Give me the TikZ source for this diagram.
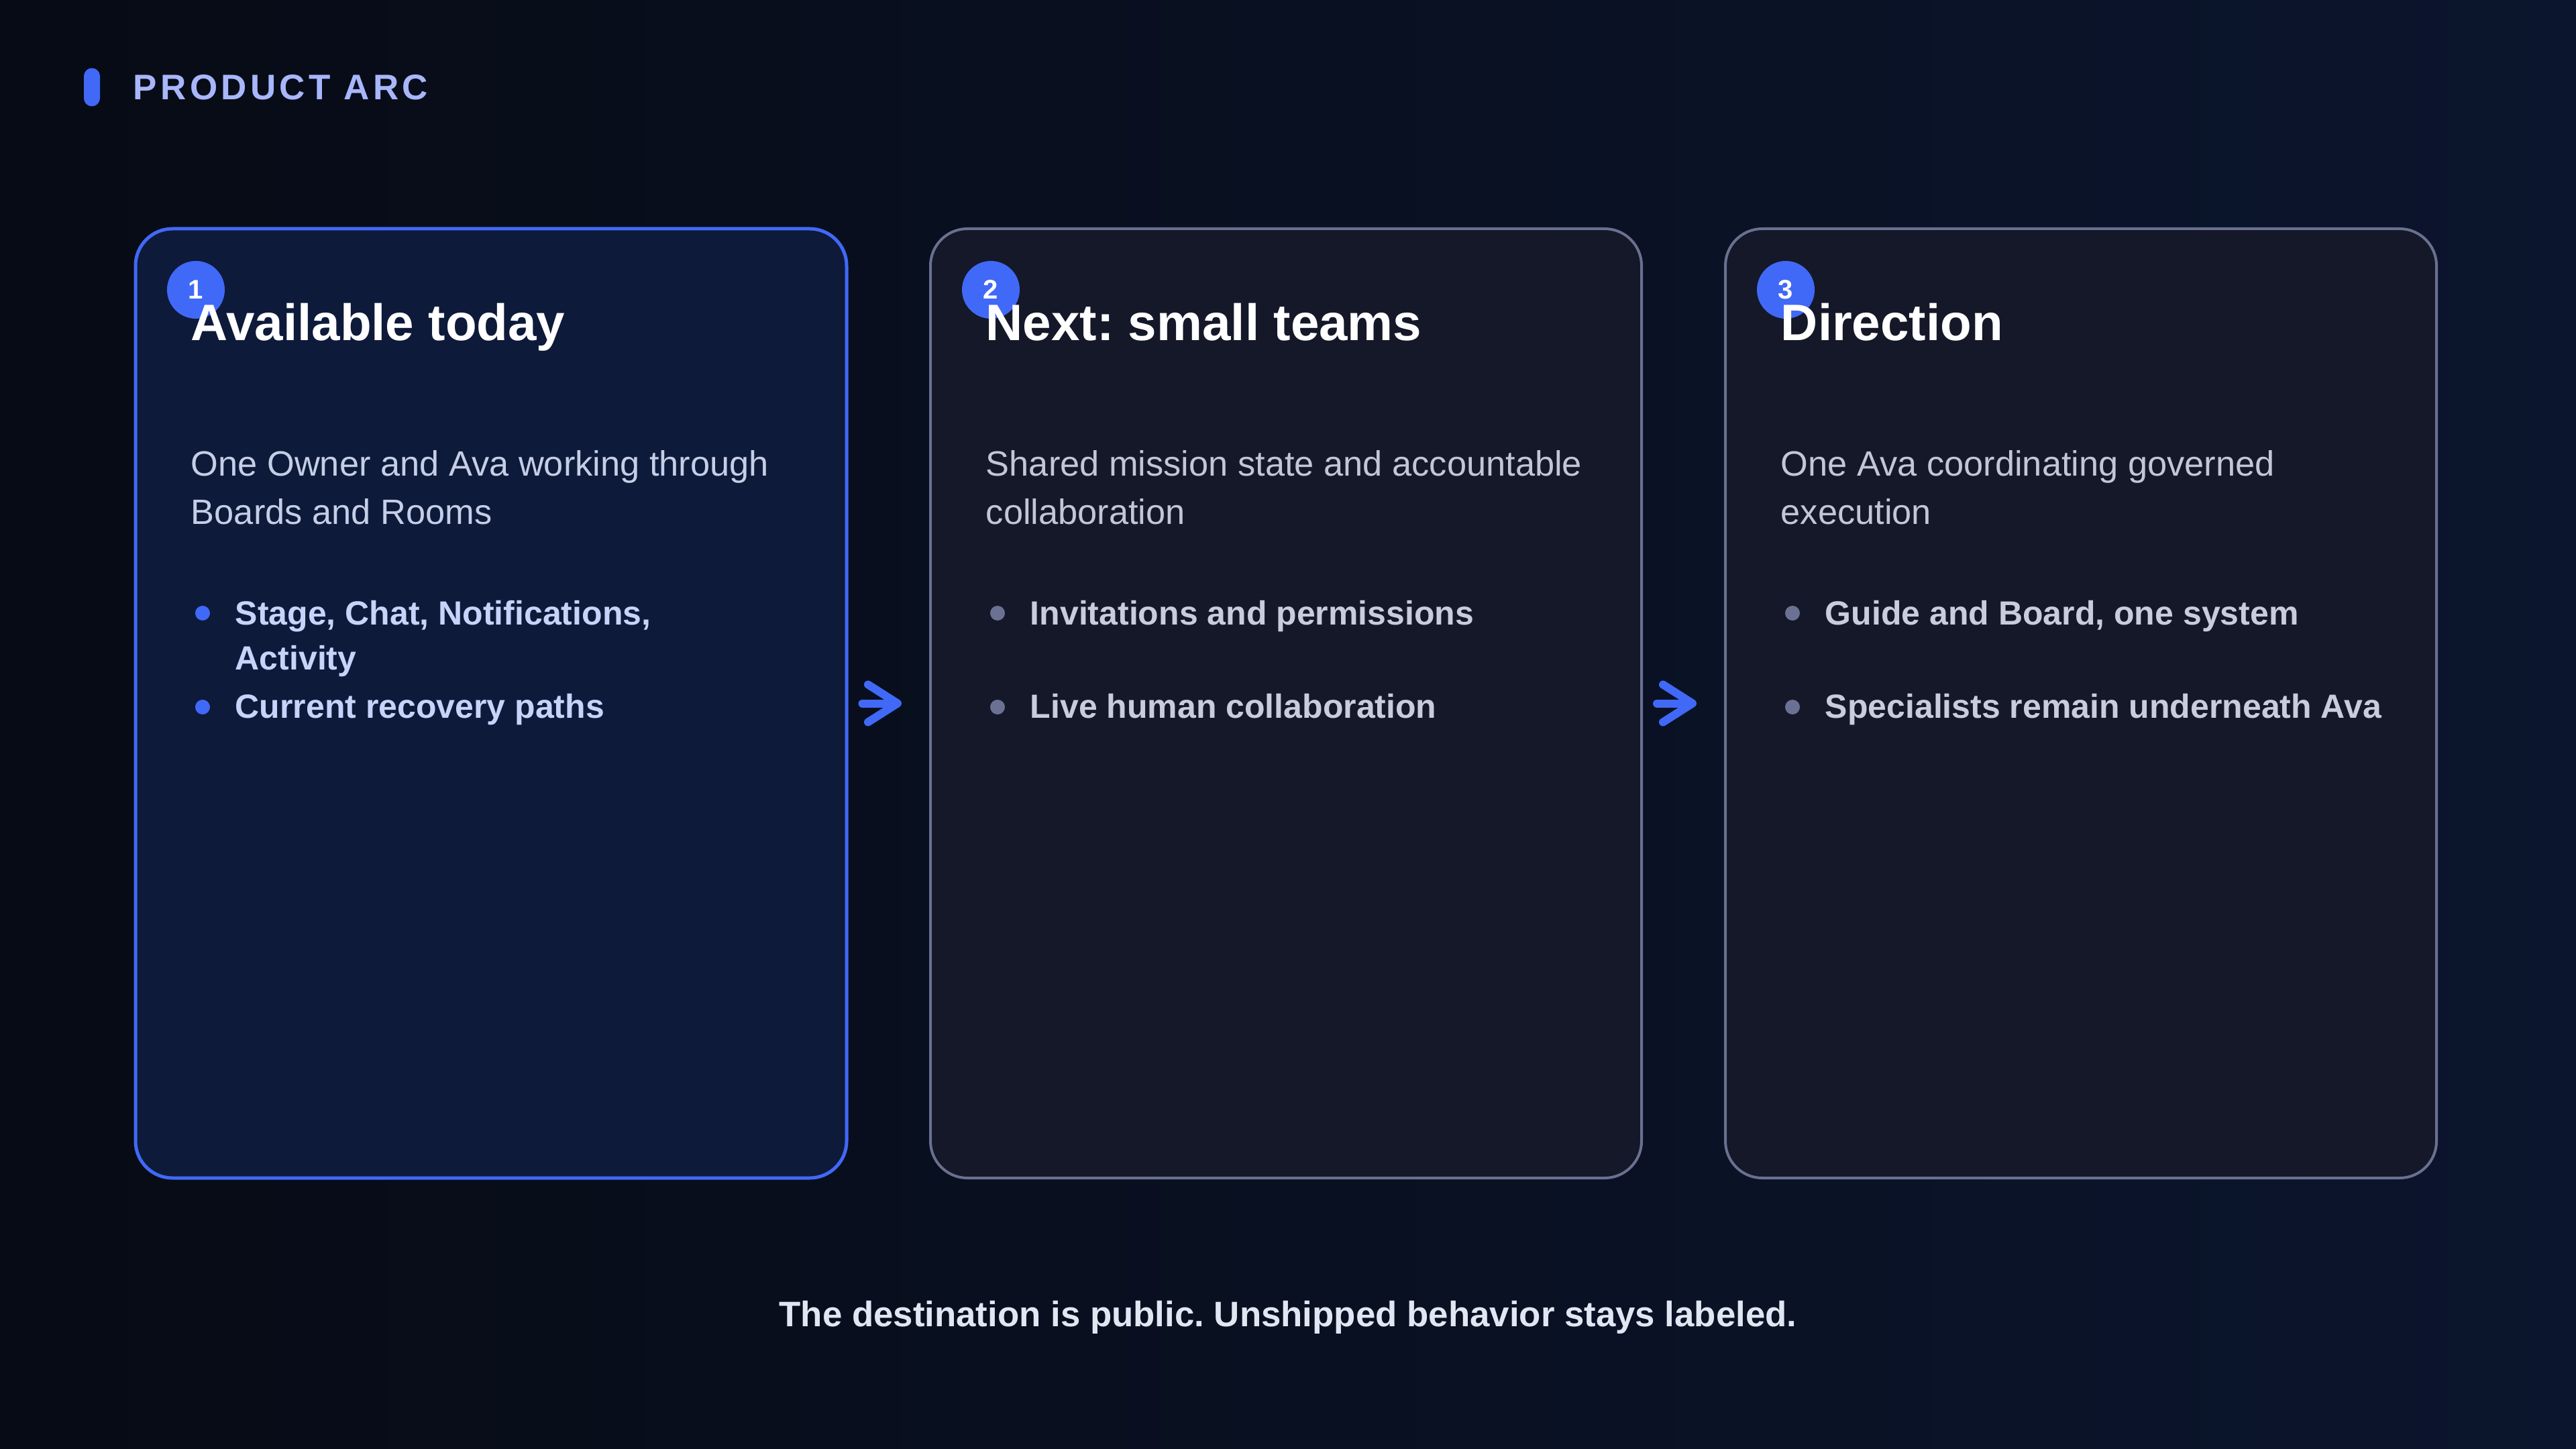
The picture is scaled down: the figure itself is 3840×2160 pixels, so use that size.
\documentclass[tikz,border=0pt]{standalone}
\usepackage{fontspec}
\setmainfont{Liberation Sans}
\usetikzlibrary{arrows.meta}
\frenchspacing
\definecolor{bgA}{HTML}{070B15}
\definecolor{bgB}{HTML}{0B152D}
\definecolor{accent}{HTML}{4169F7}
\definecolor{cardA}{HTML}{0E1A3A}
\definecolor{cardB}{HTML}{151828}
\definecolor{edgeB}{HTML}{6A7090}
\definecolor{kicker}{HTML}{A8B6FA}
\definecolor{descA}{HTML}{C5CEE6}
\definecolor{descB}{HTML}{C2C6D6}
\definecolor{bulA}{HTML}{C8D3FC}
\definecolor{bulB}{HTML}{C9CCDC}
\definecolor{dotB}{HTML}{6B7192}
\definecolor{foot}{HTML}{E1E7F2}
\tikzset{
  cardbox/.style={rectangle, rounded corners=13.75pt, minimum width=265pt, minimum height=353.75pt, inner sep=0pt},
  cardcur/.style={cardbox, draw=accent, fill=cardA, line width=1.25pt},
  cardnext/.style={cardbox, draw=edgeB, fill=cardB, line width=1pt},
  badge/.style={circle, fill=accent, minimum size=21.5pt, inner sep=0pt, text=white, font=\fontsize{10}{12}\selectfont\bfseries},
  titletext/.style={anchor=base west, inner sep=0pt, text=white, font=\fontsize{19.1}{23}\selectfont\bfseries},
  descline/.style={anchor=base west, inner sep=0pt, font=\fontsize{13.1}{16}\selectfont},
  bultext/.style={anchor=base west, inner sep=0pt, font=\fontsize{12.5}{15}\selectfont\bfseries},
  dotcur/.style={circle, fill=accent, minimum size=5.5pt, inner sep=0pt},
  dotnext/.style={circle, fill=dotB, minimum size=5.5pt, inner sep=0pt},
  flow/.style={draw=accent, line width=3pt, line cap=round, -{Straight Barb[length=11pt, width=14pt, round]}, shorten <=5.25pt, shorten >=10.25pt},
  pillbox/.style={rectangle, fill=accent, rounded corners=3pt, minimum width=6pt, minimum height=14.25pt, inner sep=0pt},
  kickertext/.style={anchor=base west, inner sep=0pt, text=kicker, font=\fontsize{13.25}{16}\selectfont\bfseries\addfontfeature{LetterSpace=10}},
  foottext/.style={anchor=base, inner sep=0pt, text=foot, font=\fontsize{13.2}{16}\selectfont\bfseries}
}
\begin{document}
\begin{tikzpicture}[x=0.25pt, y=-0.25pt]
\useasboundingbox (0,0) rectangle (3840,2160);
\shade[left color=bgA, right color=bgB] (0,0) rectangle (3840,2160);

% header
\node[pillbox] (pill) at (137,130) {};
\node[kickertext] (kick) at (198,149) {PRODUCT ARC};

% cards
\node[cardcur] (c1) at (732,1048.5) {};
\node[cardnext] (c2) at (1917,1048.5) {};
\node[cardnext] (c3) at (3102,1048.5) {};

% card 1
\node[badge] (b1) at (292,432) {1};
\node[titletext] (t1) at (284,508) {Available today};
\node[descline, text=descA] (d1a) at (284,710) {One Owner and Ava working through};
\node[descline, text=descA] (d1b) at (284,781) {Boards and Rooms};
\node[dotcur] (p1a) at (302,914) {};
\node[bultext, text=bulA] (l1a) at (350,931) {Stage, Chat, Notifications,};
\node[bultext, text=bulA] (l1b) at (350,998) {Activity};
\node[dotcur] (p1b) at (302,1054) {};
\node[bultext, text=bulA] (l1c) at (350,1070) {Current recovery paths};

% card 2
\node[badge] (b2) at (1477,432) {2};
\node[titletext] (t2) at (1469,508) {Next: small teams};
\node[descline, text=descB] (d2a) at (1469,710) {Shared mission state and accountable};
\node[descline, text=descB] (d2b) at (1469,781) {collaboration};
\node[dotnext] (p2a) at (1487,914) {};
\node[bultext, text=bulB] (l2a) at (1535,931) {Invitations and permissions};
\node[dotnext] (p2b) at (1487,1054) {};
\node[bultext, text=bulB] (l2b) at (1535,1070) {Live human collaboration};

% card 3
\node[badge] (b3) at (2662,432) {3};
\node[titletext] (t3) at (2654,508) {Direction};
\node[descline, text=descB] (d3a) at (2654,710) {One Ava coordinating governed};
\node[descline, text=descB] (d3b) at (2654,781) {execution};
\node[dotnext] (p3a) at (2672,914) {};
\node[bultext, text=bulB] (l3a) at (2720,931) {Guide and Board, one system};
\node[dotnext] (p3b) at (2672,1054) {};
\node[bultext, text=bulB] (l3b) at (2720,1070) {Specialists remain underneath Ava};

% connectors
\draw[flow] (c1.east) -- (c2.west);
\draw[flow] (c2.east) -- (c3.west);

% footer
\node[foottext] (ft) at (1920,1977) {The destination is public. Unshipped behavior stays labeled.};
\end{tikzpicture}
\end{document}
